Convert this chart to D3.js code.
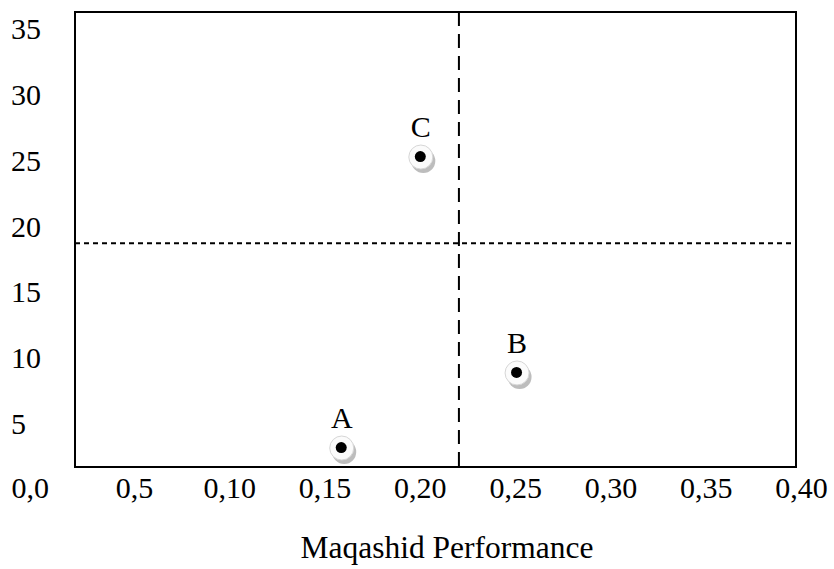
<!DOCTYPE html>
<html>
<head>
<meta charset="utf-8">
<script src="https://cdn.jsdelivr.net/npm/d3@7"></script>
<style>
    body { margin: 0; background: #fff; }
    text { font-family: "Liberation Serif", "Times New Roman", serif; fill: #000; }
</style>
</head>
<body>
<svg id="Chart"></svg>
<script>
            // data
            let pointNames = ["A", "B", "C"];
            let maqashidValues = [0.159, 0.251, 0.2005];
            let yValues = [3.1, 8.8, 25.2];

            let xTickValues = [0, 0.05, 0.10, 0.15, 0.20, 0.25, 0.30, 0.35, 0.40];
            let xTickLabels = ["0,0", "0,5", "0,10", "0,15", "0,20", "0,25", "0,30", "0,35", "0,40"];
            let yTickValues = [5, 10, 15, 20, 25, 30, 35];
            let yTickLabels = ["5", "10", "15", "20", "25", "30", "35"];

            let xMean = 0.2205;
            let yMean = 18.65;
            let xTitle = "Maqashid Performance";

            function getChartConfig() {
                let width = 834;
                let height = 569;
                // the box of the plot, in pixels
                let box = {left: 75, right: 796, top: 12, bottom: 467}
                let container = d3.select('#Chart')
                container
                    .attr("width", width)
                    .attr("height", height)
                return {width, height, box, container}
            }

            function getChartScales(config) {
                // the labels are not aligned with the box edges, so the scales are
                // anchored on the label positions and the box is placed inside them
                let xScale = d3
                    .scaleLinear()
                    .domain([0.05, 0.40])
                    .range([134, 801])

                let yScale = d3
                    .scaleLinear()
                    .domain([5, 35])
                    .range([423, 28])

                return {xScale, yScale}
            }

            function drawBox(config) {
                let {container, box} = config;
                container
                    .append("rect")
                    .attr("x", box.left)
                    .attr("y", box.top)
                    .attr("width", box.right - box.left)
                    .attr("height", box.bottom - box.top)
                    .attr("fill", "none")
                    .attr("stroke", "#000")
                    .attr("stroke-width", 2)
            }

            function drawMeanLines(scales, config) {
                let {container, box} = config;
                let {xScale, yScale} = scales;
                container
                    .append("line")
                    .attr("x1", xScale(xMean))
                    .attr("x2", xScale(xMean))
                    .attr("y1", box.top)
                    .attr("y2", box.bottom)
                    .attr("stroke", "#000")
                    .attr("stroke-width", 2)
                    .attr("stroke-dasharray", "14,8")
                container
                    .append("line")
                    .attr("x1", box.left)
                    .attr("x2", box.right)
                    .attr("y1", yScale(yMean))
                    .attr("y2", yScale(yMean))
                    .attr("stroke", "#000")
                    .attr("stroke-width", 2)
                    .attr("stroke-dasharray", "5,4")
            }

            function drawAxes(scales, config) {
                let {container} = config;
                let {xScale, yScale} = scales;

                let axisX = d3
                    .axisBottom(xScale)
                    .tickValues(xTickValues)
                    .tickSize(0)
                    .tickPadding(0)
                    .tickFormat((d, i) => xTickLabels[i])

                let gx = container
                    .append("g")
                    .attr("transform", "translate(0,487)")
                    .call(axisX)
                gx.select(".domain").remove()
                gx.selectAll("text")
                    .attr("y", 0)
                    .attr("dy", "0.35em")
                    // the corner label "0,0" sits a little left of its tick in the original
                    .attr("dx", (d, i) => i === 0 ? -9 : 0)
                    .style("font-size", "30px")
                    .style("font-family", "'Liberation Serif', serif")
                    .attr("fill", "#000")

                let axisY = d3
                    .axisLeft(yScale)
                    .tickValues(yTickValues)
                    .tickSize(0)
                    .tickFormat((d, i) => yTickLabels[i])

                let gy = container
                    .append("g")
                    .attr("transform", "translate(11,0)")
                    .call(axisY)
                gy.select(".domain").remove()
                gy.selectAll("text")
                    .attr("x", 0)
                    .attr("dy", "0.35em")
                    .attr("text-anchor", "start")
                    .style("font-size", "30px")
                    .style("font-family", "'Liberation Serif', serif")
                    .attr("fill", "#000")

                container
                    .append("text")
                    .attr("x", 447)
                    .attr("y", 547)
                    .attr("dy", "0.35em")
                    .attr("text-anchor", "middle")
                    .style("font-size", "31.5px")
                    .text(xTitle)
            }

            function drawPoints(scales, config) {
                let {container} = config;
                let {xScale, yScale} = scales;
                let points = pointNames.map((name, i) => ({
                    name: name,
                    x: maqashidValues[i],
                    y: yValues[i]
                }))

                let groups = container
                    .selectAll(".point")
                    .data(points)
                    .enter()
                    .append("g")
                    .attr("class", "point")
                    .attr("transform", d => `translate(${xScale(d.x)},${yScale(d.y)})`)

                // shadow, white disc and the black dot make the bullet
                groups.append("circle")
                    .attr("cx", 2.5)
                    .attr("cy", 4)
                    .attr("r", 12)
                    .attr("fill", "#bdbdbd")
                groups.append("circle")
                    .attr("r", 12)
                    .attr("fill", "#fbfbfb")
                    .attr("stroke", "#d6d6d6")
                    .attr("stroke-width", 1)
                groups.append("circle")
                    .attr("cx", -0.5)
                    .attr("cy", -0.5)
                    .attr("r", 5.5)
                    .attr("fill", "#000")

                groups.append("text")
                    .attr("y", -20)
                    .attr("text-anchor", "middle")
                    .style("font-size", "30px")
                    .text(d => d.name)
            }

            function showChart() {
                let config = getChartConfig();
                let scales = getChartScales(config);
                drawMeanLines(scales, config);
                drawBox(config);
                drawAxes(scales, config);
                drawPoints(scales, config);
            }

            showChart();
        </script>
</body>
</html>
